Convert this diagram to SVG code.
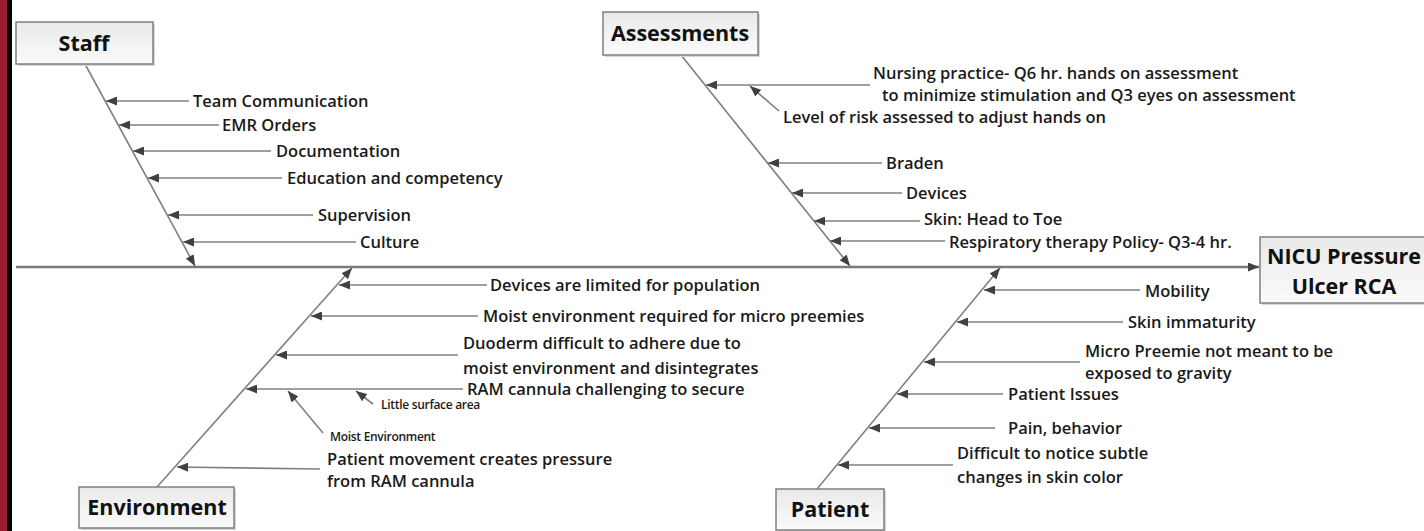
<svg xmlns="http://www.w3.org/2000/svg" width="1424" height="531" viewBox="0 0 1424 531">
<defs>
<marker id="ah" markerUnits="userSpaceOnUse" markerWidth="11" markerHeight="9" refX="11" refY="4.5" orient="auto"><path d="M0,0 L11,4.5 L0,9 z" fill="#404040"/></marker>
<linearGradient id="bg" x1="0" y1="0" x2="0" y2="1"><stop offset="0" stop-color="#e9e9e9"/><stop offset="1" stop-color="#fbfbfb"/></linearGradient>
<style>
.ln{stroke:#808080;stroke-width:1.6;fill:none;marker-end:url(#ah)}
.main{stroke:#7a7a7a;stroke-width:2.4;fill:none;marker-end:url(#ah)}
.t{font-family:"Open Sans","Liberation Sans",sans-serif;font-weight:600;font-size:16.5px;fill:#1a1a1a}
.s{font-family:"Open Sans","Liberation Sans",sans-serif;font-weight:600;font-size:12px;fill:#1a1a1a;letter-spacing:-0.3px}
.b{font-family:"Open Sans","Liberation Sans",sans-serif;font-weight:700;font-size:21.5px;fill:#111;text-anchor:middle}
.box{fill:url(#bg);stroke:#7f7f7f;stroke-width:1.5}
.sh{fill:#d6d6d6}
</style>
</defs>
<rect width="1424" height="531" fill="#ffffff"/>
<rect x="0" y="0" width="7" height="531" fill="#9a1d33"/>
<rect x="7" y="0" width="5" height="531" fill="#000"/>

<g id="connectors">
<line class="main" x1="16" y1="267" x2="1259" y2="267"/>
<line class="ln" x1="85" y1="64" x2="195" y2="266"/>
<line class="ln" x1="681" y1="55" x2="850" y2="266"/>
<line class="ln" x1="157" y1="487" x2="352" y2="268"/>
<line class="ln" x1="817" y1="489" x2="1000" y2="268"/>
<line class="ln" x1="189" y1="101" x2="106" y2="101"/>
<line class="ln" x1="219" y1="125" x2="119" y2="125"/>
<line class="ln" x1="271" y1="151" x2="133" y2="151"/>
<line class="ln" x1="282" y1="178" x2="148" y2="178"/>
<line class="ln" x1="313" y1="215" x2="168" y2="215"/>
<line class="ln" x1="356" y1="242" x2="183" y2="242"/>
<line class="ln" x1="870" y1="85" x2="706" y2="85"/>
<line class="ln" x1="779" y1="111" x2="750" y2="86"/>
<line class="ln" x1="882" y1="163" x2="768" y2="163"/>
<line class="ln" x1="902" y1="193" x2="792" y2="193"/>
<line class="ln" x1="920" y1="221" x2="814" y2="221"/>
<line class="ln" x1="945" y1="241" x2="830" y2="241"/>
<line class="ln" x1="487" y1="285" x2="339" y2="285"/>
<line class="ln" x1="478" y1="316" x2="311" y2="316"/>
<line class="ln" x1="458" y1="355" x2="276" y2="355"/>
<line class="ln" x1="463" y1="389" x2="246" y2="389"/>
<line class="ln" x1="373" y1="404" x2="356" y2="391"/>
<line class="ln" x1="323" y1="433" x2="288" y2="391"/>
<line class="ln" x1="320" y1="469" x2="177" y2="467"/>
<line class="ln" x1="1140" y1="290" x2="984" y2="290"/>
<line class="ln" x1="1123" y1="322" x2="957" y2="322"/>
<line class="ln" x1="1080" y1="362" x2="924" y2="362"/>
<line class="ln" x1="1003" y1="394" x2="897" y2="394"/>
<line class="ln" x1="995" y1="428" x2="869" y2="428"/>
<line class="ln" x1="953" y1="465" x2="838" y2="465"/>
</g>

<g id="staff">
<rect class="sh" x="18" y="24" width="137" height="42"/>
<rect class="box" x="16" y="22" width="137" height="42"/>
<text class="b" x="84" y="51">Staff</text>
<text class="t" x="193" y="107">Team Communication</text>
<text class="t" x="222" y="131">EMR Orders</text>
<text class="t" x="276" y="157">Documentation</text>
<text class="t" x="287" y="184">Education and competency</text>
<text class="t" x="318" y="221">Supervision</text>
<text class="t" x="360" y="248">Culture</text>
</g>

<g id="assessments">
<rect class="sh" x="605" y="14" width="155" height="43"/>
<rect class="box" x="603" y="12" width="155" height="43"/>
<text class="b" x="680" y="41">Assessments</text>
<text class="t" x="873" y="79">Nursing practice- Q6 hr. hands on assessment</text>
<text class="t" x="882" y="101">to minimize stimulation and Q3 eyes on assessment</text>
<text class="t" x="783" y="123">Level of risk assessed to adjust hands on</text>
<text class="t" x="886" y="169">Braden</text>
<text class="t" x="906" y="199">Devices</text>
<text class="t" x="924" y="225">Skin: Head to Toe</text>
<text class="t" x="949" y="248">Respiratory therapy Policy- Q3-4 hr.</text>
</g>

<g id="nicu">
<rect class="sh" x="1262" y="239" width="170" height="66"/>
<rect class="box" x="1260" y="237" width="170" height="66"/>
<text class="b" x="1344" y="264">NICU Pressure</text>
<text class="b" x="1344" y="294">Ulcer RCA</text>
</g>

<g id="environment">
<rect class="sh" x="81" y="489" width="155" height="41"/>
<rect class="box" x="79" y="487" width="155" height="41"/>
<text class="b" x="157" y="515">Environment</text>
<text class="t" x="490" y="291">Devices are limited for population</text>
<text class="t" x="483" y="322">Moist environment required for micro preemies</text>
<text class="t" x="463" y="349">Duoderm difficult to adhere due to</text>
<text class="t" x="463" y="374">moist environment and disintegrates</text>
<text class="t" x="467" y="395">RAM cannula challenging to secure</text>
<text class="s" x="381" y="409">Little surface area</text>
<text class="s" x="330" y="441">Moist Environment</text>
<text class="t" x="327" y="465">Patient movement creates pressure</text>
<text class="t" x="327" y="487">from RAM cannula</text>
</g>

<g id="patient">
<rect class="sh" x="778" y="491" width="108" height="41"/>
<rect class="box" x="776" y="489" width="108" height="41"/>
<text class="b" x="830" y="517">Patient</text>
<text class="t" x="1145" y="297">Mobility</text>
<text class="t" x="1128" y="328">Skin immaturity</text>
<text class="t" x="1085" y="357">Micro Preemie not meant to be</text>
<text class="t" x="1085" y="379">exposed to gravity</text>
<text class="t" x="1008" y="400">Patient Issues</text>
<text class="t" x="1008" y="434">Pain, behavior</text>
<text class="t" x="957" y="459">Difficult to notice subtle</text>
<text class="t" x="957" y="483">changes in skin color</text>
</g>
</svg>
